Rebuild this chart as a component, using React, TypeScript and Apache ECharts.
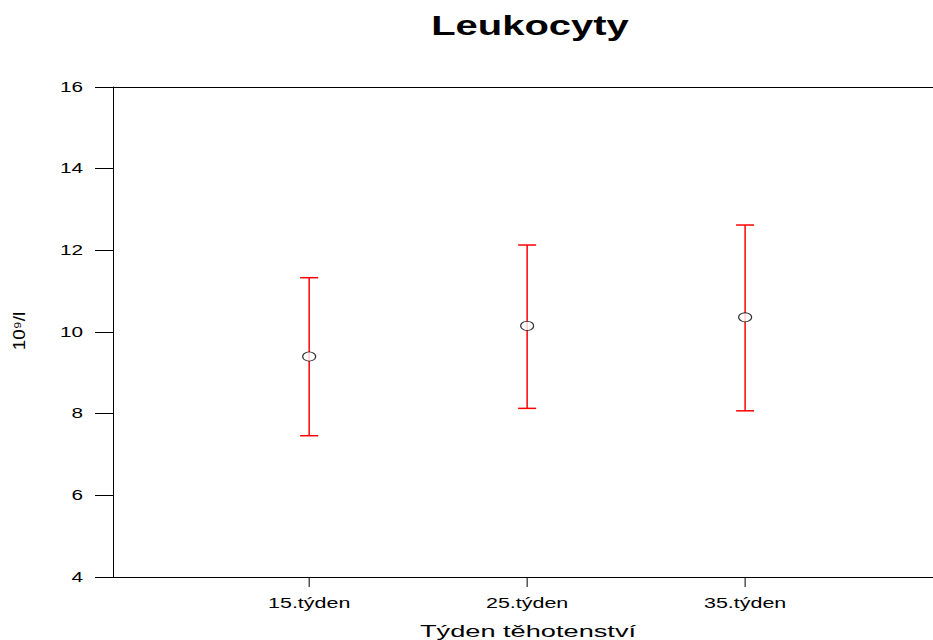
import React, { useEffect, useRef } from "react";
import * as echarts from "echarts";

const categories = ["15.týden", "25.týden", "35.týden"];
const means = [9.4, 10.15, 10.36];
const lower = [7.46, 8.13, 8.07];
const upper = [11.33, 12.13, 12.62];
const yTicks = [4, 6, 8, 10, 12, 14, 16];

const font = "'Liberation Sans', Arial, Helvetica, sans-serif";
const SX = 1.48;

export default function App() {
  const ref = useRef<HTMLDivElement>(null);
  useEffect(() => {
    if (!ref.current) return;
    const chart = echarts.init(ref.current, null, { renderer: "svg" });
    const xPos = categories.map((_, i) => i + 1);
    chart.setOption({
      animation: false,
      backgroundColor: "#ffffff",
      textStyle: { fontFamily: font },
      graphic: [
        {
          type: "text",
          x: 530,
          y: 25,
          scaleX: SX,
          style: {
            text: "Leukocyty",
            x: 0,
            y: 0,
            align: "center",
            verticalAlign: "middle",
            fontFamily: font,
            fontSize: 27,
            fontWeight: "bold",
            fill: "#000",
          },
        },
        {
          type: "text",
          x: 528,
          y: 631,
          scaleX: 1.6,
          style: {
            text: "Týden těhotenství",
            x: 0,
            y: 0,
            align: "center",
            verticalAlign: "middle",
            fontFamily: font,
            fontSize: 17,
            fill: "#000",
          },
        },
        {
          type: "text",
          x: 19,
          y: 331,
          rotation: Math.PI / 2,
          scaleX: 1.45,
          scaleY: 1.25,
          style: {
            text: "10⁹/l",
            x: 0,
            y: 0,
            align: "center",
            verticalAlign: "middle",
            fontFamily: font,
            fontSize: 13,
            fill: "#000",
          },
        },
      ],
      grid: { left: 113, right: 0, top: 87, bottom: 63, containLabel: false },
      xAxis: [
        {
          type: "value",
          min: 0.1,
          max: 3.862,
          interval: 1,
          axisLine: { show: true, onZero: false, lineStyle: { color: "#000", width: 1 } },
          axisTick: { show: false },
          axisLabel: { show: false },
          splitLine: { show: false },
        },
        {
          type: "value",
          position: "top",
          min: 0,
          max: 1,
          axisLine: { show: true, lineStyle: { color: "#000", width: 1 } },
          axisTick: { show: false },
          axisLabel: { show: false },
          splitLine: { show: false },
        },
      ],
      yAxis: {
        type: "value",
        min: 4,
        max: 16,
        interval: 2,
        axisLine: { show: true, lineStyle: { color: "#000", width: 1 } },
        axisTick: { show: true, length: 18, lineStyle: { color: "#000", width: 1 } },
        axisLabel: { show: false },
        splitLine: { show: false },
      },
      series: [
        {
          type: "custom",
          xAxisIndex: 0,
          renderItem: (params: any, api: any) => {
            const x = api.value(0);
            const lo = api.coord([x, api.value(1)]);
            const hi = api.coord([x, api.value(2)]);
            const base = api.coord([x, 4]);
            const style = { stroke: "#ff0000", lineWidth: 1.5 };
            return {
              type: "group",
              children: [
                { type: "line", shape: { x1: lo[0], y1: lo[1], x2: hi[0], y2: hi[1] }, style },
                { type: "line", shape: { x1: lo[0] - 9, y1: lo[1], x2: lo[0] + 9, y2: lo[1] }, style },
                { type: "line", shape: { x1: hi[0] - 9, y1: hi[1], x2: hi[0] + 9, y2: hi[1] }, style },
                {
                  type: "line",
                  shape: { x1: base[0], y1: base[1], x2: base[0], y2: base[1] + 10 },
                  style: { stroke: "#000", lineWidth: 1 },
                },
                {
                  type: "text",
                  x: base[0],
                  y: base[1] + 26,
                  scaleX: SX,
                  style: {
                    text: categories[params.dataIndex],
                    x: 0,
                    y: 0,
                    align: "center",
                    verticalAlign: "middle",
                    fontFamily: font,
                    fontSize: 14.5,
                    fill: "#000",
                  },
                },
              ],
            };
          },
          data: xPos.map((x, i) => [x, lower[i], upper[i]]),
          z: 2,
        },
        {
          type: "custom",
          xAxisIndex: 0,
          renderItem: (params: any, api: any) => {
            const p = api.coord([0.1, api.value(0)]);
            return {
              type: "text",
              x: p[0] - 30,
              y: p[1],
              scaleX: SX,
              style: {
                text: String(api.value(0)),
                x: 0,
                y: 0,
                align: "right",
                verticalAlign: "middle",
                fontFamily: font,
                fontSize: 14,
                fill: "#000",
              },
            };
          },
          data: yTicks.map((v) => [v]),
          clip: false,
          z: 2,
        },
        {
          type: "scatter",
          xAxisIndex: 0,
          data: xPos.map((x, i) => [x, means[i]]),
          symbol: "circle",
          symbolSize: [13, 9],
          itemStyle: { color: "#ffffff", borderColor: "#000", borderWidth: 1 },
          z: 3,
        },
      ],
    });
    return () => chart.dispose();
  }, []);
  return (
    <div
      ref={ref}
      style={{ position: "fixed", left: 0, top: 0, width: 933, height: 640 }}
    />
  );
}
